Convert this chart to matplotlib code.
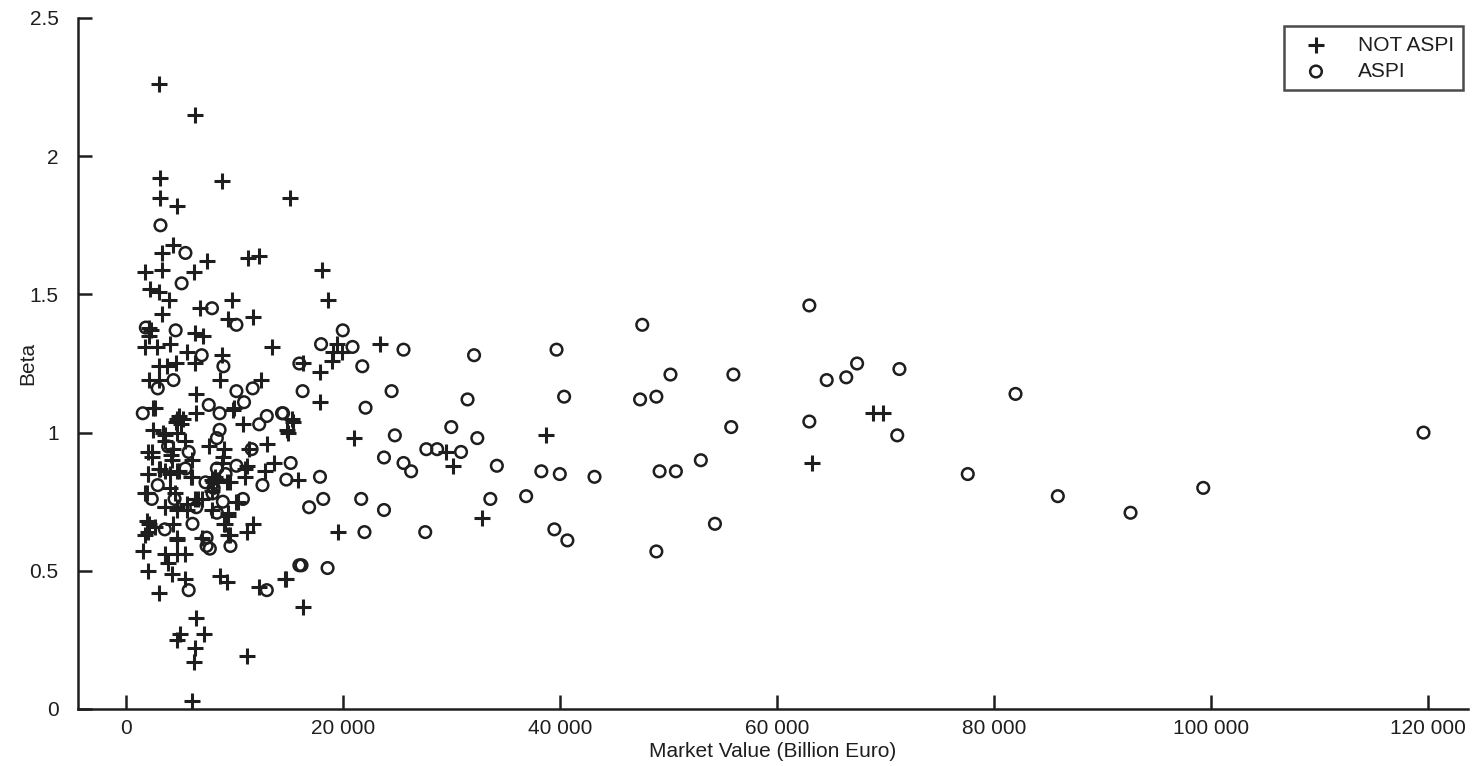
#!/usr/bin/env python3
# --------------------------------- imports ---------------------------------- #
import numpy as np
import matplotlib
matplotlib.use('Agg')
import matplotlib.pyplot as plt
from matplotlib.ticker import FuncFormatter, MultipleLocator
# ---------------------------------------------------------------------------- #

not_aspi_x = [
    3100, 6400, 3200, 8900, 3200, 4700, 15100, 3300, 4400, 3300, 1750, 7450,
    6300, 11300, 12300, 2200, 3100, 3950, 3300, 6800, 9800, 9400, 11700, 13500,
    6400, 7100, 5600, 6400, 8900, 1800, 2900, 4050, 2100, 2300, 2100, 3100,
    3800, 4600, 2100, 3100, 8700, 12500, 6500, 6500, 9850, 10800, 15300, 14950,
    2500, 4700, 4900, 4600, 2500, 3600, 4750, 5500, 2400, 4150, 7650, 9100,
    8950, 6150, 2050, 3100, 4050, 4950, 6000, 11150, 12800, 13700, 8200, 8000,
    8400, 9600, 6650, 3600, 4700, 5600, 10200, 9400, 1950, 9100, 11700, 11150,
    9600, 2100, 2050, 4700, 1560, 3600, 4700, 5500, 3900, 2050, 4250, 5450,
    8700, 9300, 12300, 14750, 3050, 6450, 5000, 4700, 7200, 6350, 6250, 11150,
    6150, 18100, 18600, 19500, 19100, 19900, 19000, 17900, 17900, 23400, 16300,
    15400, 14900, 21000, 29500, 30200, 38700, 32800, 19600, 15900, 14700, 16300,
    68900, 69800, 63200, 2700, 5250, 5070, 3400, 3600, 4330, 2030, 2400, 4240,
    3130, 3600, 4700, 6080, 2030, 1750, 4060, 4520, 3600, 4700, 5620, 6360,
    1940, 2670, 4330, 1750, 4700, 9960, 11400, 13000, 11000, 11000, 8850, 9310,
    7930, 7930, 7000, 9400, 7930, 10300, 9130, 9400, 7000,
]
not_aspi_beta = [
    2.26, 2.15, 1.92, 1.91, 1.85, 1.82, 1.85, 1.65, 1.68, 1.59, 1.58, 1.62,
    1.58, 1.63, 1.64, 1.52, 1.51, 1.48, 1.43, 1.45, 1.48, 1.41, 1.42, 1.31,
    1.36, 1.35, 1.29, 1.25, 1.28, 1.31, 1.31, 1.32, 1.38, 1.37, 1.35, 1.24,
    1.24, 1.25, 1.19, 1.19, 1.19, 1.19, 1.14, 1.07, 1.08, 1.03, 1.05, 1.00,
    1.09, 1.05, 1.06, 1.04, 1.01, 0.99, 1.00, 0.97, 0.93, 0.92, 0.95, 0.94,
    0.91, 0.90, 0.85, 0.87, 0.85, 0.86, 0.84, 0.88, 0.86, 0.89, 0.84, 0.82,
    0.83, 0.82, 0.76, 0.73, 0.72, 0.74, 0.75, 0.70, 0.78, 0.67, 0.67, 0.64,
    0.63, 0.67, 0.64, 0.62, 0.57, 0.56, 0.56, 0.56, 0.53, 0.50, 0.49, 0.47,
    0.48, 0.46, 0.44, 0.47, 0.42, 0.33, 0.27, 0.25, 0.27, 0.22, 0.17, 0.19,
    0.03, 1.59, 1.48, 1.32, 1.29, 1.29, 1.26, 1.22, 1.11, 1.32, 1.25,
    1.04, 1.01, 0.98, 0.93, 0.88, 0.99, 0.69, 0.64, 0.83, 0.47, 0.37,
    1.07, 1.07, 0.89, 1.09, 1.05, 1.03, 1.00, 0.97, 0.94, 0.93, 0.91, 0.90,
    0.87, 0.86, 0.86, 0.84, 0.85, 0.78, 0.80, 0.78, 0.73, 0.73, 0.72, 0.76,
    0.68, 0.66, 0.67, 0.63, 0.61, 1.09, 0.94, 0.96, 0.87, 0.84, 0.89, 0.82,
    0.83, 0.79, 0.76, 0.71, 0.72, 0.75, 0.67, 0.63, 0.62,
]

aspi_x = [
    3200, 5500, 5150, 7950, 10200, 4600, 1850, 7000, 9000, 4400, 10200, 11700,
    16000, 2950, 10900, 7650, 8650, 1570, 12300, 13000, 14400, 8650, 8400, 3900,
    5800, 11600, 10200, 15200, 14800, 12600, 9200, 8400, 5500, 2950, 2400, 7350,
    8000, 8950, 10800, 6500, 8400, 6150, 3600, 7450, 7750, 9650, 5800, 13000,
    16000, 8100, 7450, 4500,
    20000, 18000, 20900, 21800, 25600, 32100, 39700, 16300, 22100, 24500, 31500,
    40400, 14500, 30000, 32400, 24800, 27700, 28700, 30900, 23800, 25600, 26300,
    34200, 38300, 40000, 17900, 16900, 18200, 21700, 23800, 33600, 36900, 22000,
    27600, 39500, 40700, 16200, 18600,
    63000, 47600, 50200, 56000, 67400, 66400, 64600, 71300, 47400, 48900, 63000,
    71100, 55800, 82000, 43200, 49200, 50700, 53000, 77600, 85900, 48900, 54300,
    92600, 99300, 119600,
]
aspi_beta = [
    1.75, 1.65, 1.54, 1.45, 1.39, 1.37, 1.38, 1.28, 1.24, 1.19, 1.15, 1.16,
    1.25, 1.16, 1.11, 1.10, 1.07, 1.07, 1.03, 1.06, 1.07, 1.01, 0.98, 0.95,
    0.93, 0.94, 0.88, 0.89, 0.83, 0.81, 0.85, 0.87, 0.87, 0.81, 0.76, 0.82,
    0.78, 0.75, 0.76, 0.73, 0.71, 0.67, 0.65, 0.59, 0.58, 0.59, 0.43, 0.43,
    0.52, 0.80, 0.62, 0.76,
    1.37, 1.32, 1.31, 1.24, 1.30, 1.28, 1.30, 1.15, 1.09, 1.15, 1.12,
    1.13, 1.07, 1.02, 0.98, 0.99, 0.94, 0.94, 0.93, 0.91, 0.89, 0.86,
    0.88, 0.86, 0.85, 0.84, 0.73, 0.76, 0.76, 0.72, 0.76, 0.77, 0.64,
    0.64, 0.65, 0.61, 0.52, 0.51,
    1.46, 1.39, 1.21, 1.21, 1.25, 1.20, 1.19, 1.23, 1.12, 1.13, 1.04,
    0.99, 1.02, 1.14, 0.84, 0.86, 0.86, 0.90, 0.85, 0.77, 0.57, 0.67,
    0.71, 0.80, 1.00,
]

labels = ['NOT ASPI', 'ASPI']
x_label = 'Market Value (Billion Euro)'
y_label = 'Beta'

# ---------------------- create the figure and axes ---------------------- #
plt.rcParams['font.family'] = ['Liberation Sans', 'DejaVu Sans']
ink = '#1e1e1e'

fig = plt.figure(figsize=(14.76, 7.66), dpi=100)
ax = fig.add_axes([78 / 1476, 1 - 709 / 766, (1468 - 78) / 1476, (709 - 18) / 766])

ax.scatter(not_aspi_x, not_aspi_beta, marker='+', s=140, linewidths=2.2,
           color=ink, label=labels[0])
ax.scatter(aspi_x, aspi_beta, marker='o', s=70, facecolors='none',
           edgecolors=ink, linewidths=1.8, label=labels[1])

# ---------------------------- axes & ticks ----------------------------- #
ax.set_xlim(-4400, 123700)
ax.set_ylim(0, 2.5)
ax.xaxis.set_major_locator(MultipleLocator(20000))
ax.yaxis.set_major_locator(MultipleLocator(0.5))
ax.xaxis.set_major_formatter(
    FuncFormatter(lambda v, p: '{:,}'.format(int(round(v))).replace(',', ' ')))
ax.yaxis.set_major_formatter(FuncFormatter(lambda v, p: '{:g}'.format(v)))

for side in ['top', 'right']:
    ax.spines[side].set_visible(False)
for side in ['left', 'bottom']:
    ax.spines[side].set_linewidth(1.8)
    ax.spines[side].set_color(ink)
ax.tick_params(direction='in', length=10, width=1.8, colors=ink, labelsize=15)
ax.tick_params(axis='y', pad=14)
ax.tick_params(axis='x', pad=7)

ax.set_xlabel(x_label, fontsize=15, color=ink, labelpad=3)
ax.set_ylabel(y_label, fontsize=15, color=ink)
ax.yaxis.set_label_coords(-0.029, 0.5)

# ------------------------------- legend --------------------------------- #
leg = ax.legend(loc='upper right', bbox_to_anchor=(0.9965, 0.988), fancybox=False,
                frameon=True, edgecolor=ink, fontsize=15, borderpad=0.45,
                handletextpad=0.9, handlelength=2.2, scatterpoints=1,
                labelspacing=0.35, borderaxespad=0.0)
leg.get_frame().set_linewidth(1.8)
for t in leg.get_texts():
    t.set_color(ink)

fig.savefig('out.png', dpi=100)
